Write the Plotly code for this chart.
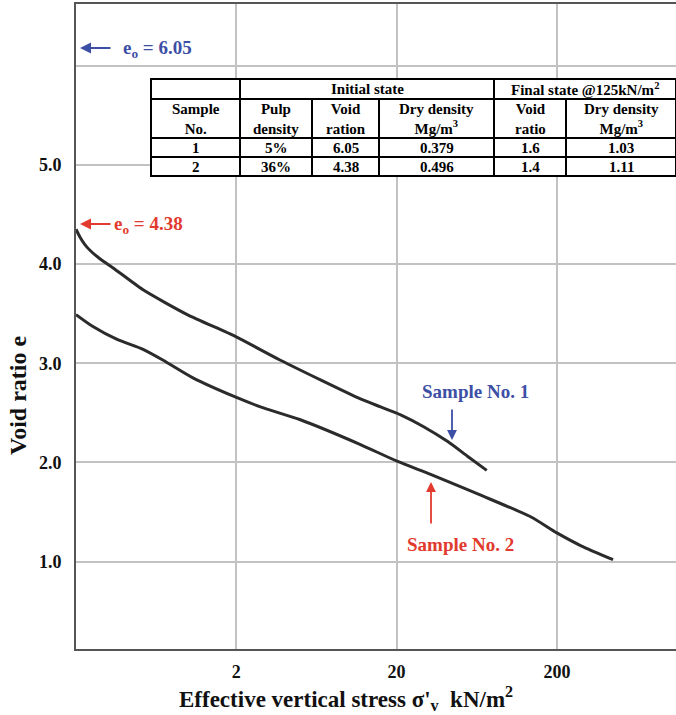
import plotly.graph_objects as go

# ---- data ----
stress_s1 = [0.2, 0.212, 0.234, 0.283, 0.341, 0.524, 0.988, 1.97, 3.77, 11.9, 15.9, 21.2, 29.5, 41.7, 55.6, 73]
void_s1 = [4.35, 4.27, 4.17, 4.05, 3.96, 3.74, 3.49, 3.27, 3.03, 2.64, 2.56, 2.48, 2.36, 2.21, 2.06, 1.92]

stress_s2 = [0.2, 0.255, 0.361, 0.524, 0.70, 1.08, 1.97, 2.83, 5.02, 11.9, 20.3, 32.6, 67, 138, 200, 283, 448]
void_s2 = [3.49, 3.37, 3.24, 3.14, 3.03, 2.85, 2.66, 2.56, 2.43, 2.18, 2.01, 1.88, 1.67, 1.45, 1.29, 1.16, 1.02]

x_ticks = [2, 20, 200]
x_tick_labels = ["2", "20", "200"]
y_ticks = [1, 2, 3, 4, 5, 6]
y_tick_labels = ["1.0", "2.0", "3.0", "4.0", "5.0", ""]

table_header_top = ["", "Initial state", "Final state @125kN/m<sup>2</sup>"]
table_header = ["Sample<br>No.", "Pulp<br>density", "Void<br>ration", "Dry density<br>Mg/m<sup>3</sup>",
                "Void<br>ratio", "Dry density<br>Mg/m<sup>3</sup>"]
table_rows = [
    ["1", "5%", "6.05", "0.379", "1.6", "1.03"],
    ["2", "36%", "4.38", "0.496", "1.4", "1.11"],
]

# ---- layout geometry (pixels) ----
W, H = 676, 715
L, R, T, B = 76, 0, 4, 66
PW, PH = W - L - R, H - T - B

def px(xp):
    return (xp - L) / PW

def py(yp):
    return (H - B - yp) / PH

def bold(s):
    return "<b>" + s + "</b>" if s else s

FONT = "Liberation Serif"
BLUE = "#3d4fa5"
RED = "#e23a2e"
CURVE = "#2b2b2b"

fig = go.Figure()
fig.add_trace(go.Scatter(x=stress_s1, y=void_s1, mode="lines", line=dict(color=CURVE, width=3, shape="spline", smoothing=0.6), showlegend=False))
fig.add_trace(go.Scatter(x=stress_s2, y=void_s2, mode="lines", line=dict(color=CURVE, width=3, shape="spline", smoothing=0.6), showlegend=False))

annotations = []
shapes = []

# ---- table ----
col_x = [151, 240, 312, 379, 494, 566, 676]
row_y = [79, 99, 138, 157, 176]
shapes.append(dict(type="rect", xref="paper", yref="paper", x0=px(col_x[0]), x1=px(col_x[-1]),
                   y0=py(row_y[0]), y1=py(row_y[-1]), fillcolor="white", line=dict(color="black", width=2), layer="above"))
for yv in row_y[1:-1]:
    shapes.append(dict(type="line", xref="paper", yref="paper", x0=px(col_x[0]), x1=px(col_x[-1]),
                       y0=py(yv), y1=py(yv), line=dict(color="black", width=2), layer="above"))
for i, xv in enumerate(col_x[1:-1], start=1):
    top = row_y[0] if i in (1, 4) else row_y[1]
    shapes.append(dict(type="line", xref="paper", yref="paper", x0=px(xv), x1=px(xv),
                       y0=py(top), y1=py(row_y[-1]), line=dict(color="black", width=2), layer="above"))

tfont = dict(family=FONT, size=15, color="black")
spans = [(col_x[0], col_x[1]), (col_x[1], col_x[4]), (col_x[4], col_x[6])]
for txt, (a, b) in zip(table_header_top, spans):
    if txt:
        annotations.append(dict(text=bold(txt), xref="paper", yref="paper", x=px((a + b) / 2), y=py((row_y[0] + row_y[1]) / 2),
                                showarrow=False, font=tfont, xanchor="center", yanchor="middle"))
for j, txt in enumerate(table_header):
    annotations.append(dict(text=bold(txt), xref="paper", yref="paper", x=px((col_x[j] + col_x[j + 1]) / 2),
                            y=py((row_y[1] + row_y[2]) / 2), showarrow=False, font=tfont,
                            xanchor="center", yanchor="middle"))
for r, row in enumerate(table_rows):
    for j, txt in enumerate(row):
        annotations.append(dict(text=bold(txt), xref="paper", yref="paper", x=px((col_x[j] + col_x[j + 1]) / 2),
                                y=py((row_y[2 + r] + row_y[3 + r]) / 2), showarrow=False, font=tfont,
                                xanchor="center", yanchor="middle"))

# ---- e0 labels ----
afont = 19
annotations.append(dict(text="", xref="paper", yref="paper", x=px(80), y=py(48), ax=32, ay=0,
                        showarrow=True, arrowhead=2, arrowsize=1.1, arrowwidth=2, arrowcolor=BLUE))
annotations.append(dict(text=bold("e<sub>o</sub> = 6.05"), xref="paper", yref="paper", x=px(121), y=py(49),
                        showarrow=False, xanchor="left", yanchor="middle",
                        font=dict(family=FONT, size=afont, color=BLUE)))
annotations.append(dict(text="", xref="paper", yref="paper", x=px(80), y=py(224), ax=32, ay=0,
                        showarrow=True, arrowhead=2, arrowsize=1.1, arrowwidth=2, arrowcolor=RED))
annotations.append(dict(text=bold("e<sub>o</sub> = 4.38"), xref="paper", yref="paper", x=px(112), y=py(225),
                        showarrow=False, xanchor="left", yanchor="middle",
                        font=dict(family=FONT, size=afont, color=RED)))

# ---- sample labels ----
annotations.append(dict(text=bold("Sample No. 1"), xref="paper", yref="paper", x=px(475), y=py(391),
                        showarrow=False, xanchor="center", yanchor="middle",
                        font=dict(family=FONT, size=19, color=BLUE)))
annotations.append(dict(text="", xref="paper", yref="paper", x=px(452), y=py(440), ax=0, ay=-32,
                        showarrow=True, arrowhead=2, arrowsize=1.1, arrowwidth=1.8, arrowcolor=BLUE))
annotations.append(dict(text=bold("Sample No. 2"), xref="paper", yref="paper", x=px(460), y=py(544),
                        showarrow=False, xanchor="center", yanchor="middle",
                        font=dict(family=FONT, size=19, color=RED)))
annotations.append(dict(text="", xref="paper", yref="paper", x=px(431), y=py(482), ax=0, ay=43,
                        showarrow=True, arrowhead=2, arrowsize=1.1, arrowwidth=1.8, arrowcolor=RED))

# ---- axis titles ----
annotations.append(dict(text=bold("Effective vertical stress σ'<sub>v</sub>  kN/m<sup>2</sup>"), xref="paper", yref="paper",
                        x=px(346), y=py(698), showarrow=False, xanchor="center", yanchor="middle",
                        font=dict(family=FONT, size=23, color="#111")))
annotations.append(dict(text=bold("Void ratio e"), xref="paper", yref="paper", x=px(18), y=py(396), textangle=-90,
                        showarrow=False, xanchor="center", yanchor="middle",
                        font=dict(family=FONT, size=24, color="#111")))

fig.update_layout(
    width=W, height=H,
    margin=dict(l=L, r=R, t=T, b=B),
    paper_bgcolor="white", plot_bgcolor="white",
    showlegend=False,
    annotations=annotations,
    shapes=shapes,
    xaxis=dict(type="log", range=[-0.699, 3.044], tickvals=x_ticks, ticktext=[bold(t) for t in x_tick_labels],
               showgrid=True, gridcolor="#c2c2c2", gridwidth=1.5, zeroline=False,
               showline=True, linecolor="#555", linewidth=2, mirror=True,
               ticks="", ticklabelstandoff=5,
               tickfont=dict(family=FONT, size=18, color="#111")),
    yaxis=dict(range=[0.12, 6.62], tickvals=y_ticks, ticktext=[bold(t) for t in y_tick_labels],
               showgrid=True, gridcolor="#c2c2c2", gridwidth=1.5, zeroline=False,
               showline=True, linecolor="#555", linewidth=2, mirror=False,
               ticks="", ticklabelstandoff=9,
               tickfont=dict(family=FONT, size=18, color="#111")),
)

fig.write_html("out.html")
